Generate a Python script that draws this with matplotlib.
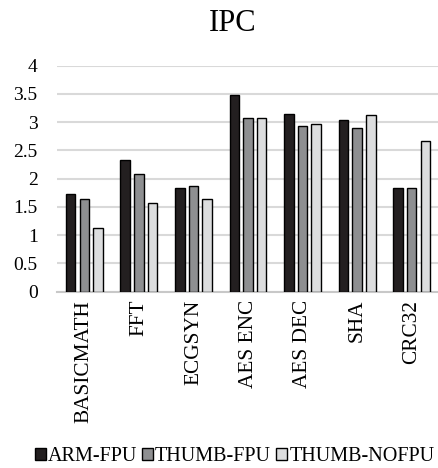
import matplotlib
matplotlib.use('Agg')
import matplotlib.pyplot as plt
import numpy as np

plt.rcParams['font.family'] = ['Liberation Serif', 'DejaVu Serif']

# benchmark data
benchmarks = ['BASICMATH', 'FFT', 'ECGSYN', 'AES ENC', 'AES DEC', 'SHA', 'CRC32']
arm_fpu = [1.72, 2.32, 1.84, 3.47, 3.15, 3.03, 1.84]
thumb_fpu = [1.63, 2.08, 1.87, 3.08, 2.93, 2.90, 1.84]
thumb_nofpu = [1.12, 1.57, 1.63, 3.08, 2.96, 3.12, 2.67]
yticks = [0, 0.5, 1, 1.5, 2, 2.5, 3, 3.5, 4]
yticklabels = ['0', '0.5', '1', '1.5', '2', '2.5', '3', '3.5', '4']

fig = plt.figure(figsize=(4.39, 4.68), dpi=100)
ax = fig.add_axes([0.13, 0.377, 0.87, 0.483])

x = np.arange(len(benchmarks))
w = 0.175
d = 0.25
ax.bar(x - d, arm_fpu, w, color='#231f20', edgecolor='black', linewidth=1.0, label='ARM-FPU', zorder=3)
ax.bar(x, thumb_fpu, w, color='#8e8f91', edgecolor='black', linewidth=1.0, label='THUMB-FPU', zorder=3)
ax.bar(x + d, thumb_nofpu, w, color='#dcddde', edgecolor='black', linewidth=1.0, label='THUMB-NOFPU', zorder=3)

ax.set_xlim(-0.5, len(benchmarks) - 0.5)
ax.set_ylim(0, 4)
ax.set_yticks(yticks)
ax.set_yticklabels(yticklabels, fontsize=14)
ax.set_xticks(x)
ax.set_xticklabels(benchmarks, rotation=90, fontsize=15.3, va='top', ha='center')
ax.tick_params(axis='both', length=0)
ax.tick_params(axis='x', pad=6)
ax.tick_params(axis='y', pad=14)
ax.yaxis.grid(True, color='#d9d9d9', linewidth=1.5, zorder=0)
for s in ['top', 'right', 'left']:
    ax.spines[s].set_visible(False)
ax.spines['bottom'].set_color('#c8c8c8')
ax.spines['bottom'].set_linewidth(1.5)

fig.text(0.53, 0.95, 'IPC', fontsize=22, ha='center', va='center')

fig.legend(loc='center', bbox_to_anchor=(0.534, 0.024), ncol=3, frameon=False,
           fontsize=14.5, handlelength=0.55, handleheight=0.55, handletextpad=0.1,
           columnspacing=0.25, borderpad=0)

fig.savefig('out.png', dpi=100)
